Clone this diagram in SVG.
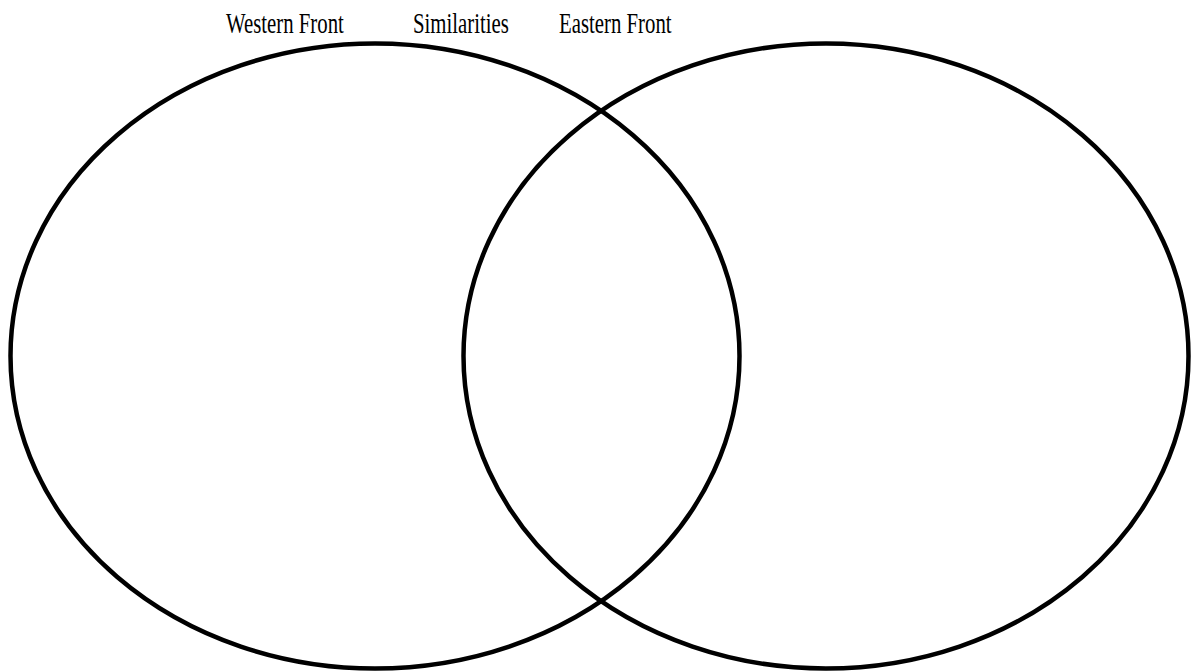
<svg xmlns="http://www.w3.org/2000/svg" width="1192" height="671" viewBox="0 0 1192 671">
<style>
.lbl{font-family:"Liberation Serif","Times New Roman",serif;font-size:20.8px;fill:#000}
.ring{fill:none;stroke:#000;stroke-width:4.5}
</style>
<rect width="1192" height="671" fill="#fff"/>
<g id="labels">
<text class="lbl" transform="translate(226,33) scale(1,1.45)">Western Front</text>
<text class="lbl" transform="translate(413,33) scale(1,1.45)">Similarities</text>
<text class="lbl" transform="translate(559,33) scale(1,1.45)">Eastern Front</text>
</g>
<g id="western">
<ellipse class="ring" cx="375" cy="356" rx="364.5" ry="312.5"/>
</g>
<g id="eastern">
<ellipse class="ring" cx="826" cy="356" rx="362.5" ry="312.5"/>
</g>
<g id="connectors"></g>
</svg>
